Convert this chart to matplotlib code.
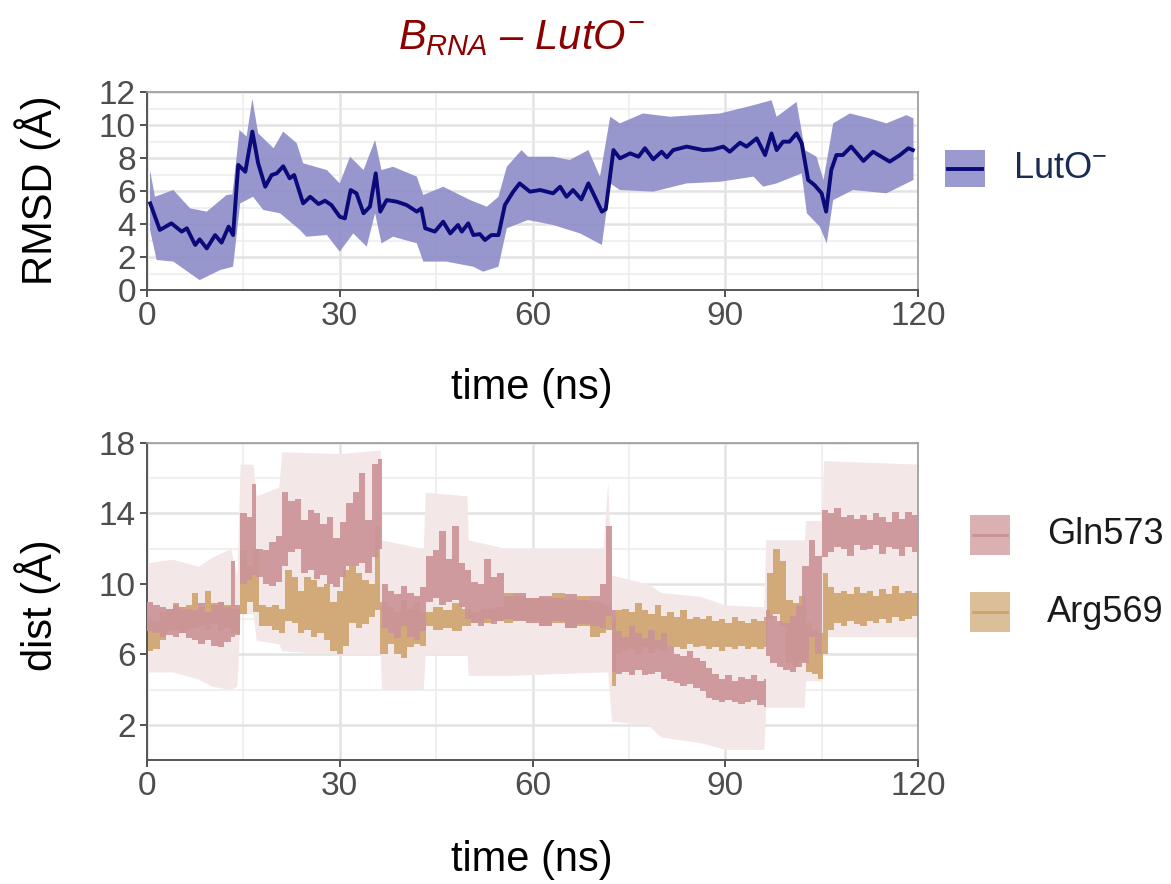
import numpy as np
import matplotlib
matplotlib.use("Agg")
import matplotlib.pyplot as plt
from matplotlib.patches import Rectangle
from matplotlib.lines import Line2D

plt.rcParams['font.family'] = ['Liberation Sans', 'DejaVu Sans']
plt.rcParams['mathtext.fontset'] = 'custom'
plt.rcParams['mathtext.rm'] = 'Liberation Sans'
plt.rcParams['mathtext.it'] = 'Liberation Sans:italic'

# ---------------- data: RMSD panel ----------------
rmsd_t = [0.5, 2.0, 3.8, 5.4, 6.2, 7.5, 8.2, 9.3, 10.6, 11.6, 12.7, 13.4, 14.2, 15.3, 16.4, 17.3,
          18.4, 19.4, 20.2, 21.2, 22.2, 22.9, 24.3, 25.4, 26.7, 27.7, 28.7, 30.0, 30.8, 31.7, 32.6,
          33.7, 34.7, 35.6, 36.3, 37.3, 38.9, 40.4, 42.0, 42.7, 43.3, 44.8, 46.1, 47.2, 48.4, 49.0,
          50.0, 50.8, 51.8, 52.6, 53.6, 54.7, 55.7, 57.0, 58.0, 59.6, 61.2, 63.2, 64.3, 65.3, 66.3,
          67.6, 68.7, 69.7, 70.8, 71.4, 72.6, 73.6, 75.2, 76.5, 77.5, 78.8, 80.1, 80.9, 81.9, 84.0,
          86.6, 88.1, 89.7, 90.7, 92.3, 93.3, 94.9, 96.2, 97.2, 98.0, 99.0, 100.0, 101.1, 101.9,
          102.9, 103.9, 105.0, 105.7, 106.5, 107.3, 108.3, 109.6, 111.5, 113.0, 114.3, 115.6, 117.2,
          118.5, 119.2]
rmsd_mean = [5.25, 3.64, 4.04, 3.54, 3.74, 2.73, 3.07, 2.52, 3.33, 2.87, 3.84, 3.33, 7.58, 7.17, 9.6,
             7.68, 6.26, 6.97, 7.07, 7.5, 6.77, 6.97, 5.25, 5.65, 5.21, 5.41, 5.15, 4.44, 4.34, 6.06,
             5.86, 4.65, 5.05, 7.07, 4.75, 5.45, 5.35, 5.15, 4.75, 4.95, 3.74, 3.54, 4.14, 3.43, 3.94,
             3.54, 4.04, 3.33, 3.39, 3.03, 3.33, 3.33, 5.15, 5.96, 6.46, 5.96, 6.06, 5.86, 6.26, 5.65,
             6.06, 5.49, 6.46, 5.65, 4.75, 4.9, 8.48, 7.98, 8.28, 8.08, 8.59, 7.92, 8.38, 8.04, 8.48,
             8.69, 8.48, 8.52, 8.69, 8.38, 8.93, 8.69, 9.19, 8.18, 9.49, 8.48, 8.99, 8.99, 9.49, 8.89,
             6.67, 6.36, 5.86, 4.75, 7.27, 8.18, 8.18, 8.69, 7.82, 8.38, 8.08, 7.78, 8.18, 8.59, 8.48]

band_up_t = [0.47, 1.24, 4.1, 6.7, 9.3, 12.4, 13.3, 14.4, 15.5, 16.4, 17.3, 19.7, 21.2, 23.3, 24.3,
             28.0, 30.0, 31.6, 33.7, 35.5, 36.5, 38.3, 42.0, 43.0, 46.1, 50.3, 52.9, 54.7, 56.0,
             58.3, 59.3, 63.2, 65.8, 68.7, 70.5, 72.1, 73.6, 77.2, 81.4, 89.2, 94.4, 97.2, 98.0,
             101.1, 102.4, 104.2, 105.3, 106.8, 109.4, 112.5, 115.1, 118.2, 119.3]
band_up = [7.27, 5.65, 6.06, 4.95, 4.75, 5.76, 5.8, 9.7, 9.3, 11.6, 9.5, 8.59, 9.6, 8.9, 7.68, 7.27,
           6.46, 8.08, 7.27, 9.09, 7.27, 7.47, 6.87, 5.76, 6.26, 5.45, 5.05, 5.65, 7.47, 8.48, 8.08,
           8.08, 7.88, 8.48, 6.87, 10.5, 10.1, 10.7, 10.5, 10.7, 11.2, 11.5, 10.5, 11.4, 8.48, 8.08,
           6.67, 10.1, 10.7, 10.4, 10.1, 10.6, 10.4]
band_lo_t = [0.47, 1.5, 4.1, 8.2, 11.4, 13.4, 14.5, 16.5, 18.1, 20.7, 23.8, 24.8, 28.0, 30.0, 32.1,
             34.2, 35.5, 36.5, 38.3, 42.0, 43.0, 46.6, 50.8, 52.3, 54.7, 56.0, 59.3, 63.2, 67.4,
             70.8, 72.1, 73.6, 78.8, 84.0, 89.2, 94.4, 95.9, 98.0, 101.9, 102.7, 104.7, 105.8,
             106.8, 109.9, 115.1, 119.3]
band_lo = [3.64, 1.82, 1.72, 0.6, 1.21, 1.41, 5.25, 5.65, 4.85, 4.65, 3.64, 3.23, 3.33, 2.32, 3.43,
           2.63, 4.65, 2.83, 3.23, 2.83, 1.72, 1.72, 1.41, 1.11, 1.41, 3.74, 4.24, 3.94, 3.43, 2.73,
           6.46, 6.06, 5.96, 6.46, 6.56, 6.87, 6.26, 6.46, 7.07, 4.65, 3.84, 2.83, 5.45, 6.06, 5.86,
           6.67]

# ---------------- data: distance panel ----------------
gln_t = [0, 1, 2, 3, 4, 5, 6, 7, 8, 9, 10, 11, 12, 13, 13.7, 14.5, 15.5, 16.3, 17, 18, 19, 20, 21,
         22, 23, 24, 25, 26, 27, 28, 29, 30, 31, 32, 33, 34, 35, 36, 36.5, 37.5, 38.5, 39.5, 40.5,
         41.5, 42.5, 43.5, 44.5, 45.5, 46.5, 47.5, 48.5, 49.5, 50.5, 51.5, 52.5, 53.5, 54.5, 55.5,
         57, 59, 61, 63, 65, 67, 69, 70.5, 71.5, 72.3, 73, 74, 75, 76, 77, 78, 79, 80, 81, 82, 83,
         84, 85, 86, 87, 88, 89, 90, 91, 92, 93, 94, 95, 96, 96.3, 97, 98, 99, 100, 101, 102, 103,
         104, 105, 106, 107, 108, 109, 110, 111, 112, 113, 114, 115, 116, 117, 118, 119, 120]
gln_lo = [7.3, 7.2, 7.0, 7.1, 7.0, 7.2, 6.9, 6.8, 6.6, 6.8, 6.5, 6.4, 6.7, 7.0, 7.1, 10.0, 10.2,
          10.5, 10.4, 10.0, 9.9, 10.1, 11.0, 11.8, 12.0, 10.6, 10.8, 10.3, 10.5, 10.0, 9.8, 10.4,
          11.0, 11.0, 11.2, 10.6, 11.5, 12.0, 7.5, 7.2, 6.9, 7.6, 7.0, 6.8, 7.3, 9.0, 9.2, 8.8, 9.0,
          9.1, 8.7, 8.0, 7.8, 7.6, 8.0, 7.7, 7.9, 8.0, 7.9, 7.8, 7.6, 7.9, 7.5, 7.7, 7.6, 7.5, 8.2,
          5.0, 4.9, 5.0, 4.8, 5.1, 4.8, 4.9, 5.0, 4.6, 4.5, 4.4, 4.2, 4.3, 4.1, 3.9, 3.5, 3.4, 3.3,
          3.4, 3.3, 3.2, 3.3, 3.4, 3.1, 3.0, 5.9, 5.5, 5.3, 5.1, 5.0, 5.3, 5.5, 7.0, 6.0, 11.5, 11.8,
          12.1, 12.0, 11.6, 12.2, 11.9, 12.0, 12.2, 11.7, 12.1, 12.0, 11.6, 12.1, 11.8, 12.0]
gln_hi = [9.0, 8.8, 8.7, 8.6, 8.8, 8.7, 8.6, 8.5, 8.9, 8.4, 8.8, 9.0, 8.7, 11.3, 8.8, 14.0, 13.8,
          15.7, 12.0, 11.9, 12.4, 12.7, 15.2, 14.7, 14.8, 13.6, 14.2, 14.0, 13.4, 13.8, 12.6, 13.5,
          14.6, 15.2, 16.3, 13.6, 16.8, 17.1, 10.0, 9.6, 9.4, 9.9, 9.5, 9.3, 9.8, 11.6, 11.9, 13.0,
          11.4, 13.3, 11.2, 10.8, 10.1, 10.0, 11.4, 10.4, 10.6, 9.3, 9.5, 9.2, 9.3, 9.2, 9.4, 9.1,
          9.3, 10.0, 13.3, 8.5, 7.3, 7.0, 7.6, 7.2, 6.9, 7.4, 6.8, 7.2, 6.5, 6.0, 5.9, 6.2, 5.8, 5.6,
          5.2, 4.9, 4.6, 4.8, 4.5, 4.7, 4.6, 4.8, 4.5, 4.6, 8.5, 8.2, 7.9, 7.8, 8.2, 8.8, 11.0, 12.5,
          11.6, 14.2, 14.0, 14.3, 13.8, 13.9, 13.7, 13.9, 13.6, 14.0, 13.8, 13.5, 14.1, 13.7, 14.1,
          13.9, 13.6]

arg_t = [0, 1, 2, 3, 4, 5, 6, 7, 8, 9, 10, 11, 12, 13, 14.5, 15.5, 16.5, 17.5, 18.5, 19.5, 20.5,
         21.5, 22.5, 23.5, 24.5, 25.5, 26.5, 27.5, 28.5, 29.5, 30.5, 31.5, 32.5, 33.5, 34.5, 35.5,
         36.3, 37.5, 38.5, 39.5, 40.5, 41.5, 42.5, 43.5, 44.5, 46, 47.5, 49, 50.5, 52, 54, 55.5, 57,
         59, 61, 63, 65, 67, 69, 70.5, 71.5, 72.3, 73, 74, 75, 76, 77, 78, 79, 80, 81, 82, 83, 84,
         85, 86, 87, 88, 89, 90, 91, 92, 93, 94, 95, 96, 96.5, 97.5, 98.5, 99.5, 100.5, 101.5,
         102.5, 103.5, 104.5, 105.2, 106, 107, 108, 109, 110, 111, 112, 113, 114, 115, 116, 117,
         118, 119, 120]
arg_lo = [6.2, 6.3, 6.8, 7.3, 7.4, 7.2, 7.4, 7.5, 7.6, 7.4, 7.7, 7.3, 7.5, 7.2, 8.3, 9.0, 8.4, 7.6,
          7.6, 7.4, 7.2, 7.9, 7.8, 7.2, 7.4, 7.0, 7.2, 6.8, 6.2, 6.0, 6.5, 7.8, 7.5, 7.7, 8.1, 8.5,
          6.0, 6.6, 6.0, 5.8, 6.4, 6.6, 6.5, 7.6, 7.4, 7.5, 7.3, 7.6, 7.8, 7.8, 7.9, 7.8, 7.9, 7.9,
          7.6, 7.8, 7.5, 7.6, 7.0, 7.2, 7.4, 4.2, 6.0, 6.2, 6.3, 6.0, 6.4, 6.1, 6.3, 6.2, 6.5, 6.4,
          6.3, 6.6, 6.4, 6.5, 6.3, 6.4, 6.2, 6.4, 6.3, 6.5, 6.3, 6.4, 6.3, 6.4, 8.0, 8.3, 7.6, 5.5,
          5.3, 5.6, 5.0, 4.9, 4.6, 6.0, 7.4, 7.8, 7.6, 7.9, 7.7, 7.6, 7.9, 7.8, 8.0, 7.8, 8.1, 7.9,
          8.0, 8.2, 8.0]
arg_hi = [8.0, 7.9, 8.4, 8.6, 8.9, 8.5, 8.8, 9.5, 8.7, 9.6, 8.9, 9.0, 8.8, 8.6, 11.9, 11.0, 12.0,
          8.8, 8.7, 8.8, 8.6, 10.8, 10.4, 9.6, 10.4, 10.2, 9.8, 10.0, 9.0, 9.6, 10.8, 11.0, 10.6,
          10.2, 10.0, 13.3, 9.0, 8.7, 8.4, 9.1, 8.6, 9.0, 8.4, 8.4, 8.7, 8.5, 8.9, 8.6, 8.4, 8.6,
          8.7, 9.5, 9.3, 9.2, 9.2, 9.5, 9.1, 9.3, 9.0, 8.9, 8.8, 8.0, 8.5, 8.6, 8.4, 8.9, 8.5, 8.3,
          8.8, 8.2, 8.4, 8.1, 8.5, 8.0, 8.1, 8.0, 8.2, 7.9, 8.0, 7.8, 8.1, 7.9, 7.8, 8.0, 7.9, 8.1,
          10.6, 12.0, 11.3, 9.1, 8.9, 9.3, 7.8, 7.4, 7.2, 10.6, 9.8, 9.5, 9.6, 9.4, 9.8, 9.5, 9.6,
          9.3, 9.7, 9.4, 9.9, 9.5, 9.6, 9.5, 9.7]

env_t = [0, 4, 8, 10, 13, 14, 14.5, 16.5, 17, 20.5, 21, 30, 36.3, 36.5, 43, 43.3, 49.8, 50, 56,
         71, 71.7, 72.3, 78, 80, 86, 90, 96, 96.3, 102.3, 102.5, 105, 105.3, 120]
env_lo = [5.0, 5.0, 4.6, 4.2, 4.0, 4.2, 8.3, 8.3, 6.8, 6.6, 6.2, 6.0, 6.0, 4.0, 4.0, 6.0, 6.0, 4.8,
          4.8, 5.0, 5.0, 2.2, 2.0, 1.3, 1.0, 0.6, 0.6, 3.0, 3.0, 4.5, 4.5, 7.0, 7.0]
env_hi = [11.2, 11.4, 11.0, 11.5, 12.0, 10.5, 16.8, 16.8, 15.0, 15.5, 17.5, 17.4, 17.6, 12.5, 12.0,
          15.2, 15.0, 12.5, 12.0, 12.0, 15.8, 10.5, 10.0, 9.5, 9.3, 8.8, 8.7, 12.5, 12.5, 13.6, 13.6,
          17.0, 16.8]

series_names = ["Gln573", "Arg569"]
rmsd_label = "LutO$^{-}$"

# ---------------- styling ----------------
W, H = 1171, 884
fig = plt.figure(figsize=(W / 100, H / 100), dpi=100)


def fx(px):
    return px / W


def fy(py):
    return 1 - py / H


GRID_MAJ = '#E3E3E3'
GRID_MIN = '#ECECEC'
TICK_COL = '#4D4D4D'


def style_axes(ax, yticks, yminor, xlim, ylim):
    ax.set_xlim(*xlim)
    ax.set_ylim(*ylim)
    ax.set_xticks([0, 30, 60, 90, 120])
    ax.set_xticks([15, 45, 75, 105], minor=True)
    ax.set_yticks(yticks)
    ax.set_yticks(yminor, minor=True)
    ax.grid(True, which='major', color=GRID_MAJ, lw=1.8, zorder=0)
    ax.grid(True, which='minor', color=GRID_MIN, lw=1.1, zorder=0)
    ax.set_axisbelow(True)
    ax.tick_params(which='major', length=5, width=1.2, color='#333333',
                   labelsize=24, labelcolor=TICK_COL, pad=3)
    ax.tick_params(which='minor', length=0)
    for s in ['top', 'right']:
        ax.spines[s].set_color('#9A9A9A')
        ax.spines[s].set_linewidth(1.2)
    for s in ['left', 'bottom']:
        ax.spines[s].set_color('#555555')
        ax.spines[s].set_linewidth(1.4)


# ---- top panel ----
ax1 = fig.add_axes([fx(147), fy(290), fx(918) - fx(147), fy(92) - fy(290)])
style_axes(ax1, [0, 2, 4, 6, 8, 10, 12], [1, 3, 5, 7, 9, 11], (0, 120), (0, 12))
poly_x = np.concatenate([band_up_t, band_lo_t[::-1]])
poly_y = np.concatenate([band_up, band_lo[::-1]])
ax1.fill(poly_x, poly_y, color='#8C8CC8', alpha=0.9, lw=0, zorder=2)
ax1.plot(rmsd_t, rmsd_mean, color='#0A0A7A', lw=2.8, zorder=3)

# ---- bottom panel ----
ax2 = fig.add_axes([fx(147), fy(760), fx(918) - fx(147), fy(443) - fy(760)])
style_axes(ax2, [2, 6, 10, 14, 18], [4, 8, 12, 16], (0, 120), (0, 18))
ax2.fill_between(env_t, env_lo, env_hi, color='#F4E7E7', lw=0, zorder=1)
ax2.fill_between(arg_t, arg_lo, arg_hi, step='post', color='#CFA46F', alpha=0.92, lw=0, zorder=2)
ax2.fill_between(gln_t, gln_lo, gln_hi, step='post', color='#CB9498', alpha=0.92, lw=0, zorder=3)

# ---- axis titles ----
fig.text(fx(532), fy(388), "time (ns)", ha='center', va='center', fontsize=30)
fig.text(fx(532), fy(860), "time (ns)", ha='center', va='center', fontsize=30)
fig.text(fx(38), fy(190), "RMSD (Å)", ha='center', va='center', rotation=90, fontsize=30)
fig.text(fx(38), fy(605), "dist (Å)", ha='center', va='center', rotation=90, fontsize=30)

# ---- title ----
fig.text(fx(522), fy(38), r"$B_{RNA}$ – $LutO^{-}$", ha='center', va='center',
         fontsize=30, color='#8B0000', style='italic')

# ---- legends ----
fig.add_artist(Rectangle((fx(945), fy(187)), fx(40), fy(150) - fy(187),
                         transform=fig.transFigure, facecolor='#9A9AD0', edgecolor='none'))
fig.add_artist(Line2D([fx(948), fx(982)], [fy(168.5), fy(168.5)], transform=fig.transFigure,
                      color='#0A0A7A', lw=2.8))
fig.text(fx(1013), fy(168), rmsd_label, ha='left', va='center', fontsize=26, color='#1C2C50')

leg_cols = [('#DAB0B3', '#C99296'), ('#DABF99', '#CDA36F')]
leg_y = [535, 612]
for name, (fc, lc), yy in zip(series_names, leg_cols, leg_y):
    fig.add_artist(Rectangle((fx(970), fy(yy + 20)), fx(40), fy(yy - 20) - fy(yy + 20),
                             transform=fig.transFigure, facecolor=fc, edgecolor='none'))
    fig.add_artist(Line2D([fx(973), fx(1007)], [fy(yy), fy(yy)], transform=fig.transFigure,
                          color=lc, lw=2.0))
    fig.text(fx(1047), fy(yy), name, ha='left', va='center', fontsize=26, color='#1A1A1A')

fig.savefig("out.png", dpi=100)
